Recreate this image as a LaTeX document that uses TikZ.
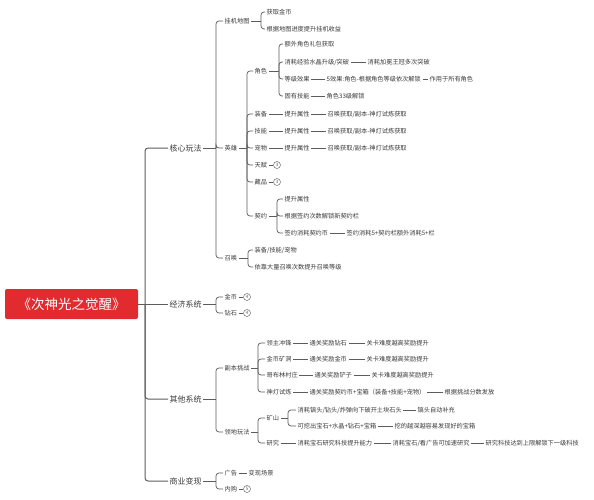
\documentclass[tikz,border=0pt]{standalone}
\usepackage{fontspec}
\setmainfont{Noto Sans CJK SC}
\usetikzlibrary{positioning}
\definecolor{RootRed}{HTML}{E12B2E}
\definecolor{Ink}{HTML}{3A3A3A}
\definecolor{Wire}{HTML}{5C5C5C}

\begin{document}
\begin{tikzpicture}[x=1pt,y=-1pt,
    root/.style={fill=RootRed,rounded corners=2pt,text=white,minimum width=133pt,minimum height=30pt,font=\fontsize{13.5}{16}\selectfont},
    topic/.style={anchor=west,text=Ink,inner sep=1.5pt,font=\fontsize{8}{9}\selectfont},
    item/.style={anchor=west,text=Ink,inner sep=1.5pt,font=\fontsize{6.2}{7}\selectfont},
    fold/.style={circle,draw=Wire,line width=0.45pt,minimum size=7pt,inner sep=0pt,text=Wire,font=\fontsize{4.5}{5}\selectfont},
    link/.style={draw=Wire,line width=0.7pt},
    bracket/.style={link,rounded corners=3pt}]
    \useasboundingbox (0,0) rectangle (594,500);

    % root and first level
    \node[root] (game) at (71.5,304) {《次神光之觉醒》};
    \node[topic] (core) at (168,148) {核心玩法};
    \node[topic] (econ) at (168,304) {经济系统};
    \node[topic] (other) at (168,399) {其他系统};
    \node[topic] (biz) at (168,481) {商业变现};
    \coordinate (sGame) at (145,304);
    \draw[link,line width=1pt] (game.east) -- (econ.west);
    \foreach \c in {core,other,biz}
      \draw[bracket,line width=1pt] (sGame) |- (\c.west);

    % core gameplay
    \node[item] (idle) at (223,21) {挂机地图};
    \node[item] (hero) at (223,148) {英雄};
    \node[item] (summon) at (223,258) {召唤};
    \coordinate (bCore) at (216,148);
    \draw[link] (core.east) -- (bCore);
    \foreach \c in {idle,hero,summon}
      \draw[bracket] (bCore) |- (\c.west);

    \node[item] (idleCoin) at (265,12) {获取金币};
    \node[item] (idleGain) at (265,29) {根据地图进度提升挂机收益};
    \coordinate (bIdle) at (261,21);
    \draw[link] (idle.east) -- (bIdle);
    \foreach \c in {idleCoin,idleGain}
      \draw[bracket] (bIdle) |- (\c.west);

    \node[item] (role) at (253,71) {角色};
    \node[item] (equip) at (253,114) {装备};
    \node[item] (skill) at (253,131) {技能};
    \node[item] (pet) at (253,148) {宠物};
    \node[item] (talent) at (253,165) {天赋};
    \node[item] (relic) at (253,182) {藏品};
    \node[item] (pact) at (253,216) {契约};
    \coordinate (bHero) at (247,148);
    \draw[link] (hero.east) -- (bHero);
    \foreach \c in {role,equip,skill,pet,talent,relic,pact}
      \draw[bracket] (bHero) |- (\c.west);

    \node[item] (roleGift) at (283,44) {额外角色礼包获取};
    \node[item] (roleUp) at (283,62) {消耗经验水晶升级/突破};
    \node[item] (roleLv) at (283,79) {等级效果};
    \node[item] (roleSkill) at (283,96) {固有技能};
    \coordinate (bRole) at (279,71);
    \draw[link] (role.east) -- (bRole);
    \foreach \c in {roleGift,roleUp,roleLv,roleSkill}
      \draw[bracket] (bRole) |- (\c.west);
    \node[item] (roleCrown) at (366,62) {消耗加冕王冠多次突破};
    \node[item] (roleLvFx) at (325,79) {5效果:角色-根据角色等级依次解锁};
    \node[item] (roleAll) at (428,79) {作用于所有角色};
    \node[item] (roleUnlock) at (325,96) {角色33级解锁};
    \draw[link] (roleUp) -- (roleCrown);
    \draw[link] (roleLv) -- (roleLvFx);
    \draw[link] (roleLvFx) -- (roleAll);
    \draw[link] (roleSkill) -- (roleUnlock);

    \node[item] (equipAttr) at (283,114) {提升属性};
    \node[item] (equipGet) at (326,114) {召唤获取/副本-神灯试炼获取};
    \node[item] (skillAttr) at (283,131) {提升属性};
    \node[item] (skillGet) at (326,131) {召唤获取/副本-神灯试炼获取};
    \node[item] (petAttr) at (283,148) {提升属性};
    \node[item] (petGet) at (326,148) {召唤获取/副本-神灯试炼获取};
    \draw[link] (equip) -- (equipAttr);
    \draw[link] (equipAttr) -- (equipGet);
    \draw[link] (skill) -- (skillAttr);
    \draw[link] (skillAttr) -- (skillGet);
    \draw[link] (pet) -- (petAttr);
    \draw[link] (petAttr) -- (petGet);

    \node[fold] (talentMore) at (277,165) {3};
    \node[fold] (relicMore) at (277,182) {3};
    \draw[link] (talent) -- (talentMore);
    \draw[link] (relic) -- (relicMore);

    \node[item] (pactAttr) at (283,199) {提升属性};
    \node[item] (pactSlot) at (283,216) {根据签约次数解锁新契约栏};
    \node[item] (pactCost) at (283,233) {签约消耗契约币};
    \coordinate (bPact) at (277,216);
    \draw[link] (pact.east) -- (bPact);
    \foreach \c in {pactAttr,pactSlot,pactCost}
      \draw[bracket] (bPact) |- (\c.west);
    \node[item] (pactExtra) at (345,233) {签约消耗5+契约栏额外消耗5+栏};
    \draw[link] (pactCost) -- (pactExtra);

    \node[item] (summonPool) at (253,250) {装备/技能/宠物};
    \node[item] (summonLv) at (253,267) {依靠大量召唤次数提升召唤等级};
    \coordinate (bSummon) at (248,258);
    \draw[link] (summon.east) -- (bSummon);
    \foreach \c in {summonPool,summonLv}
      \draw[bracket] (bSummon) |- (\c.west);

    % economy
    \node[item] (coin) at (223,297) {金币};
    \node[item] (gem) at (223,313) {钻石};
    \coordinate (bEcon) at (216,304);
    \draw[link] (econ.east) -- (bEcon);
    \foreach \c in {coin,gem}
      \draw[bracket] (bEcon) |- (\c.west);
    \node[fold] (coinMore) at (247,297) {4};
    \node[fold] (gemMore) at (247,313) {4};
    \draw[link] (coin) -- (coinMore);
    \draw[link] (gem) -- (gemMore);

    % other systems
    \node[item] (dungeon) at (223,368) {副本挑战};
    \node[item] (land) at (223,432) {领地玩法};
    \coordinate (bOther) at (216,399);
    \draw[link] (other.east) -- (bOther);
    \foreach \c in {dungeon,land}
      \draw[bracket] (bOther) |- (\c.west);

    \node[item] (lord) at (265,343) {领主冲锋};
    \node[item] (mineCave) at (265,359) {金币矿洞};
    \node[item] (goblin) at (265,375) {哥布林村庄};
    \node[item] (lamp) at (265,392) {神灯试炼};
    \coordinate (bDungeon) at (258,368);
    \draw[link] (dungeon.east) -- (bDungeon);
    \foreach \c in {lord,mineCave,goblin,lamp}
      \draw[bracket] (bDungeon) |- (\c.west);
    \node[item] (lordGet) at (308,343) {通关奖励钻石};
    \node[item] (lordHard) at (365,343) {关卡难度越高奖励提升};
    \node[item] (caveGet) at (308,359) {通关奖励金币};
    \node[item] (caveHard) at (365,359) {关卡难度越高奖励提升};
    \node[item] (goblinGet) at (313,375) {通关奖励铲子};
    \node[item] (goblinHard) at (370,375) {关卡难度越高奖励提升};
    \node[item] (lampGet) at (308,392) {通关奖励契约币+宝箱（装备+技能+宠物）};
    \node[item] (lampScore) at (443,392) {根据挑战分数发放};
    \draw[link] (lord) -- (lordGet);
    \draw[link] (lordGet) -- (lordHard);
    \draw[link] (mineCave) -- (caveGet);
    \draw[link] (caveGet) -- (caveHard);
    \draw[link] (goblin) -- (goblinGet);
    \draw[link] (goblinGet) -- (goblinHard);
    \draw[link] (lamp) -- (lampGet);
    \draw[link] (lampGet) -- (lampScore);

    \node[item] (mine) at (265,418) {矿山};
    \node[item] (study) at (265,443) {研究};
    \coordinate (bLand) at (258,432);
    \draw[link] (land.east) -- (bLand);
    \foreach \c in {mine,study}
      \draw[bracket] (bLand) |- (\c.west);

    \node[item] (mineDig) at (296,410) {消耗镐头/钻头/炸弹向下破开土块石头};
    \node[item] (mineLoot) at (296,426) {可挖出宝石+水晶+钻石+宝箱};
    \coordinate (bMine) at (288,418);
    \draw[link] (mine.east) -- (bMine);
    \foreach \c in {mineDig,mineLoot}
      \draw[bracket] (bMine) |- (\c.west);
    \node[item] (mineRefill) at (416,410) {镐头自动补充};
    \node[item] (mineDeep) at (393,426) {挖的越深越容易发现好的宝箱};
    \draw[link] (mineDig) -- (mineRefill);
    \draw[link] (mineLoot) -- (mineDeep);

    \node[item] (studyTech) at (296,443) {消耗宝石研究科技提升能力};
    \node[item] (studyFast) at (391,443) {消耗宝石/看广告可加速研究};
    \node[item] (studyNext) at (484,443) {研究科技达到上限解锁下一级科技};
    \draw[link] (study) -- (studyTech);
    \draw[link] (studyTech) -- (studyFast);
    \draw[link] (studyFast) -- (studyNext);

    % monetisation
    \node[item] (ad) at (223,473) {广告};
    \node[item] (iap) at (223,489) {内购};
    \coordinate (bBiz) at (216,481);
    \draw[link] (biz.east) -- (bBiz);
    \foreach \c in {ad,iap}
      \draw[bracket] (bBiz) |- (\c.west);
    \node[item] (adScene) at (247,473) {变现场景};
    \node[fold] (iapMore) at (247,489) {5};
    \draw[link] (ad) -- (adScene);
    \draw[link] (iap) -- (iapMore);
  \end{tikzpicture}
\end{document}
